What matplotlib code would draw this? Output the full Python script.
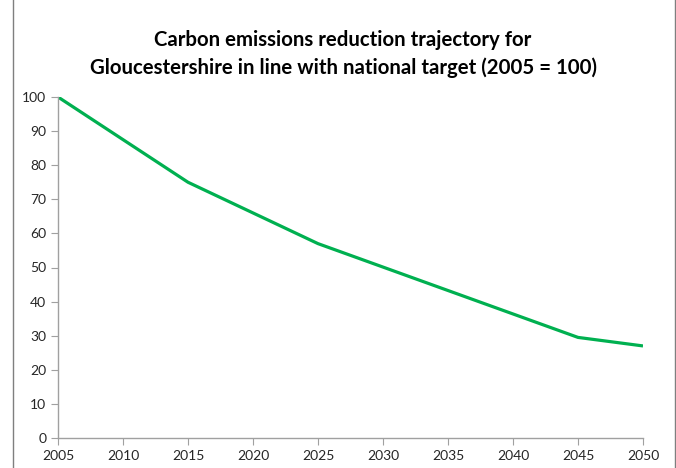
import matplotlib.pyplot as plt
from matplotlib.lines import Line2D

years = [2005, 2015, 2025, 2045, 2050]
index = [100, 75, 57, 29.5, 27]
x_ticks = [2005, 2010, 2015, 2020, 2025, 2030, 2035, 2040, 2045, 2050]
y_ticks = [0, 10, 20, 30, 40, 50, 60, 70, 80, 90, 100]

W, H = 676, 468
fig = plt.figure(figsize=(W / 100, H / 100), dpi=100)
ax = fig.add_axes([58 / W, 30 / H, (643 - 58) / W, (438 - 97) / H])

ax.plot(years, index, color='#00B050', linewidth=2.3, solid_capstyle='butt')
ax.set_xlim(2005, 2050)
ax.set_ylim(0, 100)
ax.set_xticks(x_ticks)
ax.set_yticks(y_ticks)

for s in ['top', 'right']:
    ax.spines[s].set_visible(False)
for s in ['left', 'bottom']:
    ax.spines[s].set_color('#A0A0A0')
    ax.spines[s].set_linewidth(1)
ax.tick_params(direction='out', length=5, color='#A0A0A0', labelsize=10,
               labelcolor='#262626')
for lab in ax.get_xticklabels() + ax.get_yticklabels():
    lab.set_family('Lato')

fig.text(343 / W, 1 - 40 / H, 'Carbon emissions reduction trajectory for',
         ha='center', va='center', fontsize=14.7, fontweight='bold', family='Lato')
fig.text(343 / W, 1 - 68 / H, 'Gloucestershire in line with national target (2005 = 100)',
         ha='center', va='center', fontsize=14.7, fontweight='bold', family='Lato')

# chart frame edges
fig.add_artist(Line2D([12.5 / W, 12.5 / W], [0, 1], color='#7F7F7F', linewidth=1))
fig.add_artist(Line2D([674.5 / W, 674.5 / W], [0, 1], color='#7F7F7F', linewidth=1))

fig.savefig('out.png', dpi=100)
